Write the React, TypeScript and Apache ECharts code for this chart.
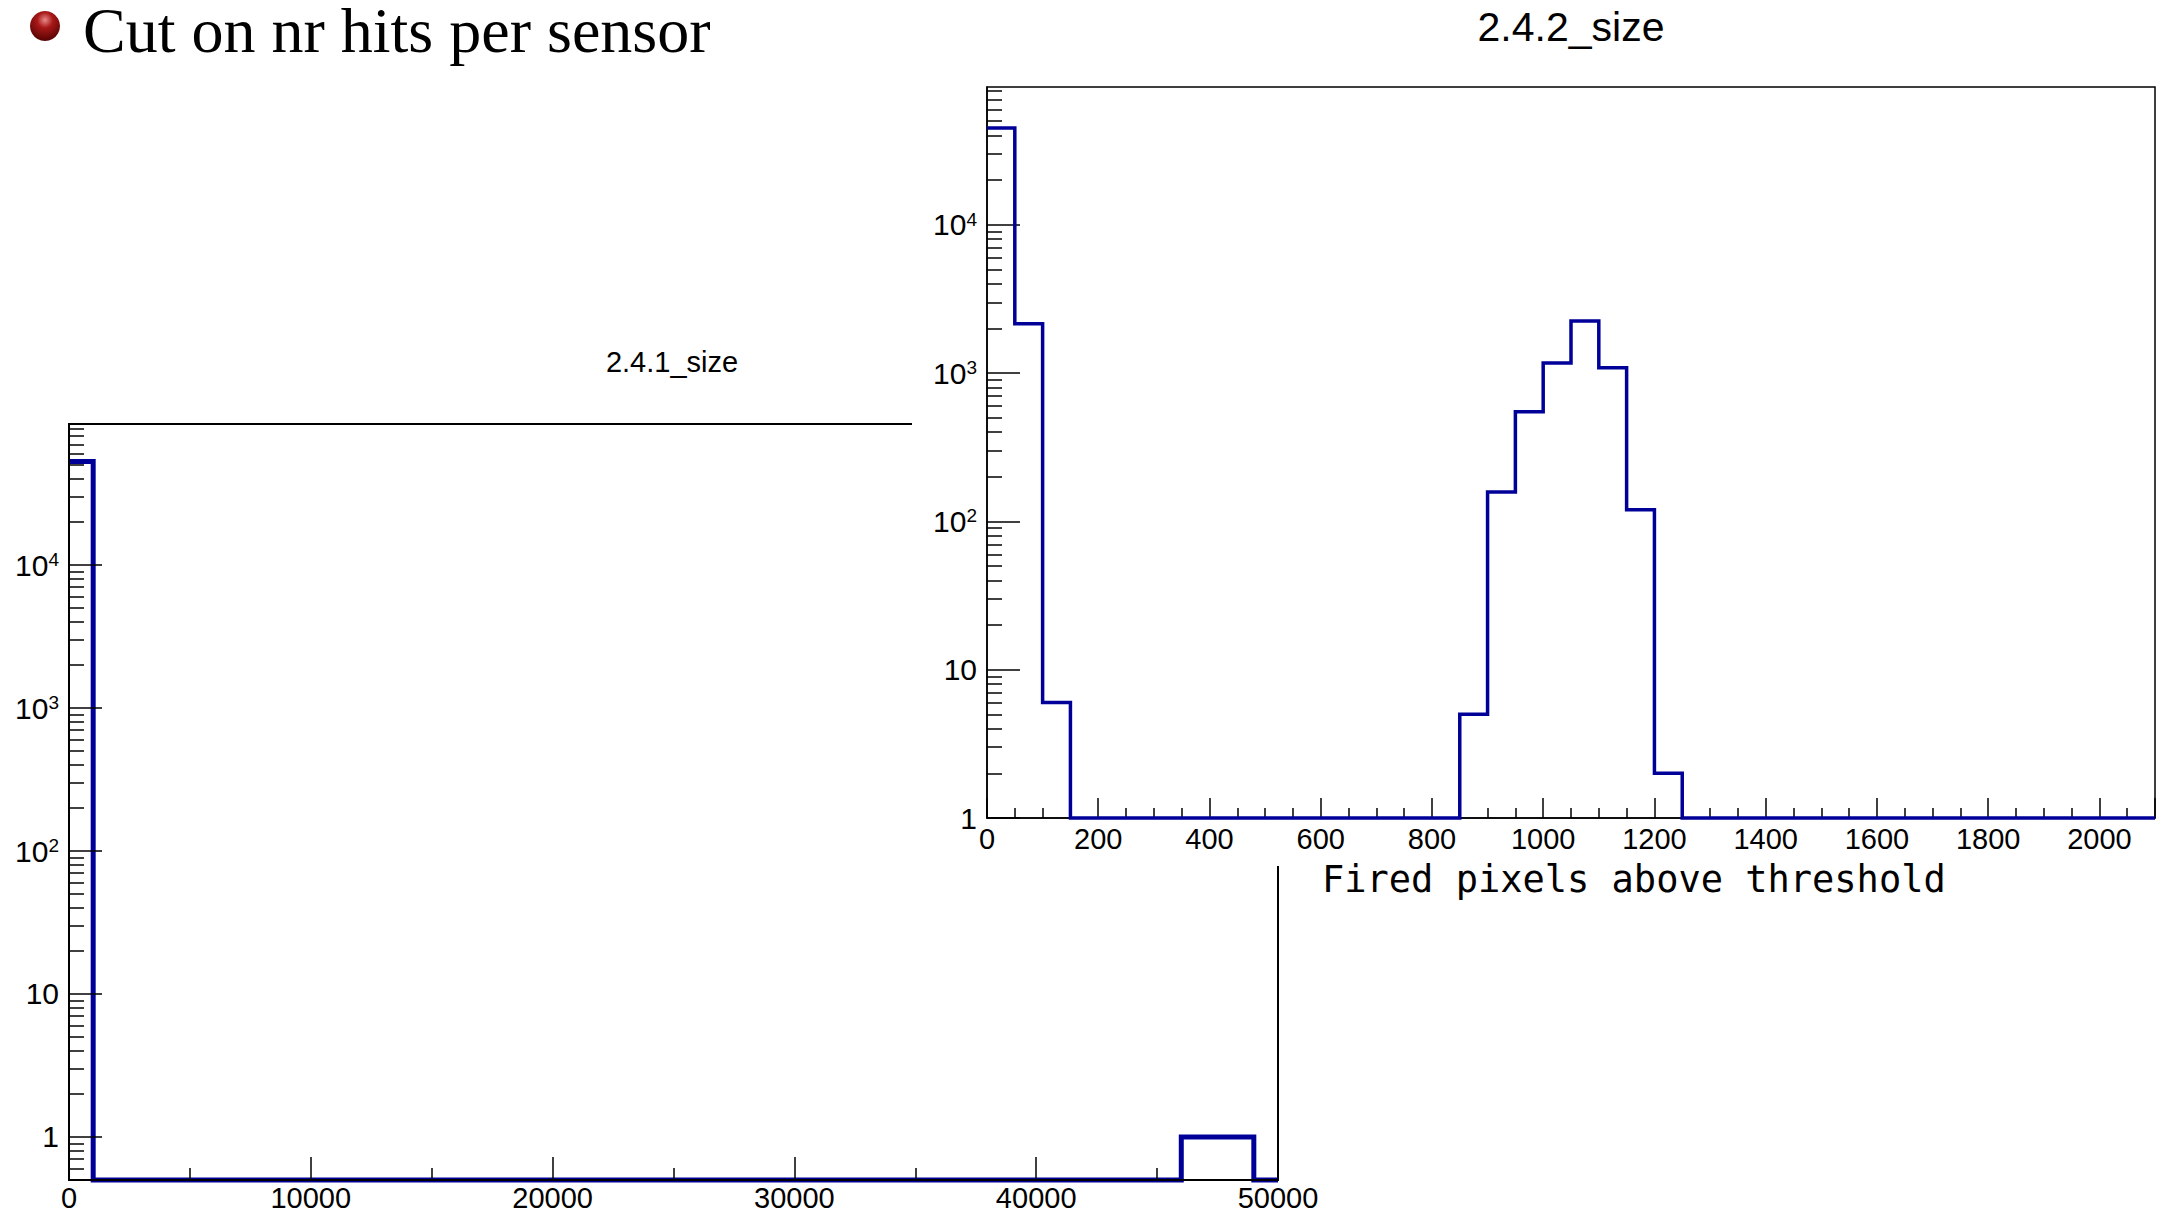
import React, { useEffect, useRef } from 'react';
import * as echarts from 'echarts';

// ---------- data ----------
// Left histogram "2.4.1_size": 50 bins of width 1000 over [0, 50000]
const leftBinWidth = 1000;
const leftCounts = [
  53000,
  0, 0, 0, 0, 0, 0, 0, 0, 0, 0, 0, 0, 0, 0, 0,
  0, 0, 0, 0, 0, 0, 0, 0, 0, 0, 0, 0, 0, 0, 0,
  0, 0, 0, 0, 0, 0, 0, 0, 0, 0, 0, 0, 0, 0, 0,
  1, 1, 1,
  0,
];

// Right histogram "2.4.2_size": 42 bins of width 50 over [0, 2100]
const rightBinWidth = 50;
const rightCounts = [
  45000, 2150, 6,
  0, 0, 0, 0, 0, 0, 0, 0, 0, 0, 0, 0, 0, 0,
  5, 158, 548, 1170, 2250, 1085, 120, 2,
  0, 0, 0, 0, 0, 0, 0, 0, 0, 0, 0, 0, 0, 0, 0, 0, 0,
];

const decadeTicks = [1, 10, 100, 1000, 10000];
const subMultipliers = [2, 3, 4, 5, 6, 7, 8, 9];

const leftX = { min: 0, max: 50000, step: 10000 };
const leftY = { min: 0.5, max: 97000 };
const rightX = { min: 0, max: 2100, step: 200 };
const rightY = { min: 1, max: 85000 };

const slideTitle = 'Cut on nr hits per sensor';
const leftTitle = '2.4.1_size';
const rightTitle = '2.4.2_size';
const rightXTitle = 'Fired pixels above threshold';

// ---------- helpers ----------
const SANS = '"Liberation Sans", Arial, sans-serif';
const BLUE = '#000099';

function histPoints(counts: number[], width: number, floor: number) {
  const pts: number[][] = counts.map((c, i) => [i * width, c > 0 ? c : floor]);
  const last = counts[counts.length - 1];
  pts.push([counts.length * width, last > 0 ? last : floor]);
  return pts;
}

function minorTicks(lowExtra: number[], max: number) {
  const out = [...lowExtra];
  decadeTicks.forEach((d) => subMultipliers.forEach((m) => { if (m * d < max) out.push(m * d); }));
  return out;
}

function logLabel(v: number) {
  const e = Math.round(Math.log10(v));
  if (e === 0) return '{b|1}';
  if (e === 1) return '{b|10}';
  return `{b|10}{s|${e}}`;
}

function richFor(size: number) {
  return {
    b: { fontSize: size, fontFamily: SANS, color: '#000' },
    s: { fontSize: Math.round(size * 0.62), fontFamily: SANS, color: '#000', verticalAlign: 'top' },
  };
}

function yAxes(gridIndex: number, range: { min: number; max: number }, minor: number[], fontSize: number, lw: number, z: number) {
  return [
    {
      gridIndex, type: 'log', logBase: 10, min: range.min, max: range.max, position: 'left', z,
      axisLine: { show: true, lineStyle: { color: '#000', width: lw } },
      axisTick: { show: true, inside: true, length: 33, customValues: decadeTicks, lineStyle: { color: '#000', width: 1.5 } },
      axisLabel: { show: true, customValues: decadeTicks, formatter: logLabel, rich: richFor(fontSize), margin: 10 },
      splitLine: { show: false },
      minorTick: { show: false },
      minorSplitLine: { show: false },
    },
    {
      gridIndex, type: 'log', logBase: 10, min: range.min, max: range.max, position: 'left', z,
      axisLine: { show: false },
      axisTick: { show: true, inside: true, length: 15, customValues: minor, lineStyle: { color: '#000', width: 1.5 } },
      axisLabel: { show: false },
      splitLine: { show: false },
      minorTick: { show: false },
    },
  ];
}

export default function App() {
  const ref = useRef<HTMLDivElement>(null);

  useEffect(() => {
    if (!ref.current) return;
    const chart = echarts.init(ref.current, null, { renderer: 'svg' });

    const option: any = {
      animation: false,
      backgroundColor: '#ffffff',
      grid: [
        { left: 69, top: 424, width: 1209, height: 756, show: true, borderColor: '#000', borderWidth: 2, containLabel: false, outerBoundsMode: 'none', z: 0 },
        { left: 987, top: 87, width: 1168, height: 731, show: true, borderColor: '#000', borderWidth: 1.5, containLabel: false, outerBoundsMode: 'none', z: 100 },
      ],
      xAxis: [
        {
          gridIndex: 0, type: 'value', min: leftX.min, max: leftX.max, interval: leftX.step, position: 'bottom', z: 3,
          axisLine: { show: true, lineStyle: { color: '#000', width: 2 } },
          axisTick: { show: true, inside: true, length: 23, lineStyle: { color: '#000', width: 1.5 } },
          minorTick: { show: true, splitNumber: 2, length: 12, lineStyle: { color: '#000', width: 1.5 } },
          axisLabel: { fontFamily: SANS, fontSize: 29, color: '#000', margin: 3, formatter: (v: number) => String(v) },
          splitLine: { show: false },
          minorSplitLine: { show: false },
        },
        {
          gridIndex: 1, type: 'value', min: rightX.min, max: rightX.max, interval: rightX.step, position: 'bottom', z: 100,
          axisLine: { show: true, lineStyle: { color: '#000', width: 1.5 } },
          axisTick: { show: true, inside: true, length: 20, lineStyle: { color: '#000', width: 1.5 } },
          minorTick: { show: true, splitNumber: 4, length: 10, lineStyle: { color: '#000', width: 1.5 } },
          axisLabel: { fontFamily: SANS, fontSize: 29, color: '#000', margin: 6, showMaxLabel: false, formatter: (v: number) => String(v) },
          splitLine: { show: false },
          minorSplitLine: { show: false },
        },
      ],
      yAxis: [
        ...yAxes(0, leftY, minorTicks([0.6, 0.7, 0.8, 0.9], leftY.max), 30, 2, 3),
        ...yAxes(1, rightY, minorTicks([], rightY.max), 30, 1.5, 100),
      ],
      series: [
        {
          type: 'line', xAxisIndex: 0, yAxisIndex: 0, step: 'end', symbol: 'none', showSymbol: false, clip: false, silent: true, z: 2,
          data: histPoints(leftCounts, leftBinWidth, leftY.min),
          lineStyle: { color: BLUE, width: 5, join: 'miter', cap: 'butt' },
          itemStyle: { color: BLUE },
        },
        {
          type: 'line', xAxisIndex: 1, yAxisIndex: 2, step: 'end', symbol: 'none', showSymbol: false, clip: false, silent: true, z: 101,
          data: histPoints(rightCounts, rightBinWidth, rightY.min),
          lineStyle: { color: BLUE, width: 3.5, join: 'miter', cap: 'butt' },
          itemStyle: { color: BLUE },
        },
      ],
      graphic: [
        { type: 'rect', z: 50, silent: true, shape: { x: 912, y: 0, width: 1252, height: 866 }, style: { fill: '#ffffff' } },
        {
          type: 'circle', z: 60, shape: { cx: 45, cy: 26, r: 15 },
          style: {
            fill: {
              type: 'radial', x: 0.5, y: 0.3, r: 0.75,
              colorStops: [
                { offset: 0, color: '#e88a8a' },
                { offset: 0.35, color: '#a81818' },
                { offset: 1, color: '#4d0000' },
              ],
            },
          },
        },
        {
          type: 'text', z: 60, x: 83, y: 30,
          style: { text: slideTitle, fontSize: 64, fontFamily: '"Liberation Serif", "Times New Roman", serif', fill: '#000', align: 'left', verticalAlign: 'middle', textAlign: 'left', textVerticalAlign: 'middle' },
        },
        {
          type: 'text', z: 60, x: 672, y: 362,
          style: { text: leftTitle, fontSize: 29, fontFamily: SANS, fill: '#000', align: 'center', verticalAlign: 'middle', textAlign: 'center', textVerticalAlign: 'middle' },
        },
        {
          type: 'text', z: 100, x: 1571, y: 27,
          style: { text: rightTitle, fontSize: 41, fontFamily: SANS, fill: '#000', align: 'center', verticalAlign: 'middle', textAlign: 'center', textVerticalAlign: 'middle' },
        },
        {
          type: 'text', z: 100, x: 1322, y: 879,
          style: { text: rightXTitle, fontSize: 37, fontFamily: '"DejaVu Sans Mono", monospace', fill: '#000', align: 'left', verticalAlign: 'middle', textAlign: 'left', textVerticalAlign: 'middle' },
        },
      ],
    };

    chart.setOption(option);
    return () => chart.dispose();
  }, []);

  return (
    <div
      ref={ref}
      style={{ position: 'fixed', left: 0, top: 0, width: 2164, height: 1214, background: '#fff' }}
    />
  );
}
